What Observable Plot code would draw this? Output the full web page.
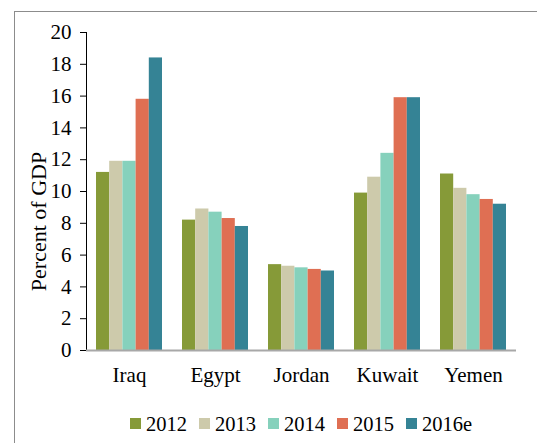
<!DOCTYPE html>
<html><head><meta charset="utf-8">
<script src="https://cdn.jsdelivr.net/npm/d3@7"></script>
<script src="https://cdn.jsdelivr.net/npm/@observablehq/plot@0.6"></script>
<style>
body{margin:0;background:#fff;overflow:hidden;width:537px;height:443px;position:relative;font-family:"Liberation Serif","Times New Roman",serif;}
#frame{position:absolute;left:14px;top:11px;width:600px;height:500px;border:1px solid #8c8c8c;box-sizing:border-box;}
#chart{position:absolute;left:0;top:0;}
#legend{position:absolute;left:86px;top:411px;width:430px;text-align:center;font-size:20.5px;line-height:22px;white-space:nowrap;color:#000;}
#legend .it{display:inline-flex;align-items:center;margin:0 6px;}
#legend .sw{display:inline-block;width:11px;height:11px;margin-right:5px;}
#chart g[aria-label="y-axis tick"]{stroke:#a8a8a8;}
</style></head>
<body>
<div id="frame"></div>
<div id="chart"></div>
<div id="legend"></div>
<script>
const countries = ["Iraq", "Egypt", "Jordan", "Kuwait", "Yemen"];
const years = ["2012", "2013", "2014", "2015", "2016e"];
const yearColors = ["#869a38", "#cdcaab", "#86d1bc", "#df6f53", "#358395"];
const v2012 = [11.2, 8.2, 5.4, 9.9, 11.1];
const v2013 = [11.9, 8.9, 5.3, 10.9, 10.2];
const v2014 = [11.9, 8.7, 5.2, 12.4, 9.8];
const v2015 = [15.8, 8.3, 5.1, 15.9, 9.5];
const v2016e = [18.4, 7.8, 5.0, 15.9, 9.2];
const yTicks = [0, 2, 4, 6, 8, 10, 12, 14, 16, 18, 20];
const yLabel = "Percent of GDP";

const series = [v2012, v2013, v2014, v2015, v2016e];
const rows = [];
countries.forEach((c, i) => years.forEach((yr, j) => rows.push({country: c, year: yr, value: series[j][i]})));

const chart = Plot.plot({
  width: 537, height: 395,
  marginLeft: 86, marginRight: 21, marginTop: 32, marginBottom: 45,
  style: {fontFamily: '"Liberation Serif", "Times New Roman", serif', fontSize: "21px", color: "#000", background: "transparent", overflow: "visible"},
  facet: {data: rows, x: "country"},
  fx: {domain: countries, padding: 0, round: false, label: null, tickSize: 0, tickPadding: 17},
  x: {domain: years, axis: null, paddingInner: 0, paddingOuter: 0.7576, round: false},
  y: {domain: [0, 20], ticks: yTicks, tickSize: 6, tickPadding: 9, label: null, line: true},
  color: {domain: years, range: yearColors},
  marks: [
    Plot.barY(rows, {x: "year", y: "value", fill: "year"}),
    Plot.ruleY([0], {stroke: "#a8a8a8", strokeWidth: 2}),
    Plot.text([yLabel], {text: d => d, frameAnchor: "left", rotate: -90, dx: -48, dy: 30, facet: "super", fontSize: 22, lineAnchor: "middle", textAnchor: "middle", fill: "#000"})
  ]
});
document.getElementById("chart").appendChild(chart);

const leg = document.getElementById("legend");
years.forEach((yr, j) => {
  const it = document.createElement("span");
  it.className = "it";
  const sw = document.createElement("span");
  sw.className = "sw";
  sw.style.background = yearColors[j];
  it.appendChild(sw);
  it.appendChild(document.createTextNode(yr));
  leg.appendChild(it);
});
</script>
</body></html>
